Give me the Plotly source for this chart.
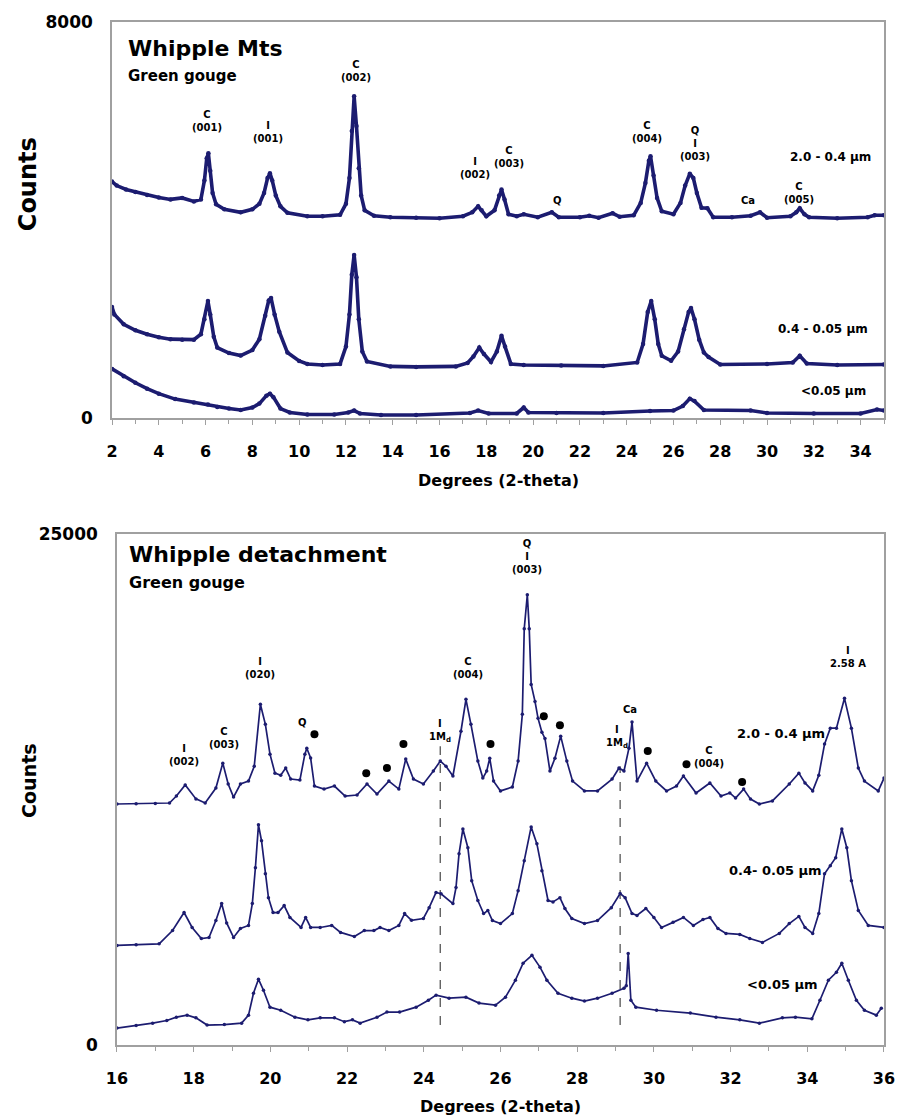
import plotly.graph_objects as go

# ---------------- data: Whipple Mts (top panel) ----------------
top_a_x = [2.0, 2.2, 2.6, 3.0, 3.5, 4.0, 4.5, 5.0, 5.5, 5.8, 5.95, 6.05, 6.12, 6.2, 6.3, 6.45, 6.8, 7.5,
           8.0, 8.3, 8.5, 8.65, 8.75, 8.85, 9.0, 9.2, 9.5, 10.35, 11.0, 11.75, 12.0, 12.15, 12.25, 12.35,
           12.45, 12.55, 12.65, 12.8, 13.2, 13.9, 15.0, 16.0, 17.0, 17.4, 17.65, 17.8, 18.0, 18.35, 18.55,
           18.65, 18.78, 18.95, 19.3, 19.6, 20.2, 20.8, 21.1, 22.0, 22.4, 22.8, 23.4, 23.7, 24.3, 24.6,
           24.8, 24.95, 25.02, 25.15, 25.3, 25.5, 26.0, 26.3, 26.5, 26.7, 26.85, 27.0, 27.2, 27.45, 27.7,
           28.5, 29.3, 29.7, 30.0, 31.0, 31.25, 31.4, 31.6, 31.8, 33.0, 34.3, 34.6, 35.0]
top_a_y = [4780, 4700, 4620, 4570, 4510, 4460, 4420, 4450, 4380, 4420, 4800, 5250, 5350, 5000, 4550, 4320,
           4220, 4160, 4220, 4330, 4550, 4850, 4950, 4800, 4500, 4280, 4150, 4080, 4080, 4110, 4330, 4850,
           5800, 6500, 5900, 5050, 4500, 4200, 4090, 4060, 4050, 4040, 4080, 4160, 4280, 4200, 4080, 4200,
           4500, 4620, 4420, 4120, 4080, 4120, 4060, 4160, 4060, 4060, 4090, 4050, 4140, 4070, 4100, 4350,
           4750, 5200, 5290, 4900, 4450, 4180, 4120, 4350, 4700, 4940, 4850, 4550, 4250, 4240, 4060, 4060,
           4090, 4160, 4050, 4080, 4160, 4240, 4120, 4060, 4040, 4060, 4100, 4100]

top_b_x = [2.0, 2.1, 2.5, 3.0, 3.5, 4.0, 4.5, 5.0, 5.5, 5.8, 5.95, 6.1, 6.2, 6.35, 6.5, 7.0, 7.5, 8.0, 8.3,
           8.55, 8.7, 8.8, 8.95, 9.15, 9.5, 10.0, 10.35, 11.0, 11.75, 12.0, 12.15, 12.25, 12.35, 12.45,
           12.55, 12.7, 12.9, 13.9, 15.0, 16.7, 17.2, 17.45, 17.7, 17.9, 18.2, 18.45, 18.65, 18.8, 19.05,
           19.6, 21.2, 23.0, 24.45, 24.7, 24.9, 25.05, 25.2, 25.35, 25.5, 25.9, 26.2, 26.45, 26.65, 26.75,
           26.9, 27.1, 27.3, 27.5, 28.0, 30.0, 31.1, 31.4, 31.7, 33.0, 35.0]
top_b_y = [2250, 2100, 1900, 1780, 1700, 1640, 1600, 1590, 1590, 1700, 2000, 2370, 2100, 1650, 1430, 1320,
           1270, 1380, 1600, 2070, 2380, 2430, 2100, 1750, 1330, 1160, 1100, 1080, 1100, 1450, 2100, 2900,
           3300, 2850, 2000, 1350, 1150, 1050, 1040, 1050, 1120, 1250, 1430, 1300, 1140, 1350, 1670, 1450,
           1100, 1080, 1070, 1060, 1130, 1500, 2150, 2370, 2000, 1500, 1265, 1165, 1350, 1800, 2150, 2230,
           2000, 1590, 1330, 1240, 1090, 1100, 1130, 1265, 1110, 1080, 1090]

top_c_x = [2.0, 2.5, 3.0, 3.5, 4.0, 4.7, 5.5, 6.1, 6.5, 7.0, 7.5, 8.0, 8.3, 8.6, 8.75, 8.9, 9.2, 9.6, 10.35,
           11.5, 12.1, 12.35, 12.6, 13.5, 15.0, 17.3, 17.65, 18.1, 19.3, 19.6, 19.8, 21.0, 23.0, 25.0, 26.0,
           26.4, 26.7, 26.9, 27.3, 29.3, 30.0, 32.0, 34.0, 34.7, 35.0]
top_c_y = [1000, 850, 720, 600, 500, 390, 320, 280, 230, 200, 170, 220, 300, 460, 500, 430, 200, 120, 80,
           80, 120, 160, 100, 70, 70, 110, 160, 100, 100, 220, 120, 110, 110, 150, 160, 250, 400, 350, 170,
           160, 110, 100, 100, 180, 160]

# ---------------- data: Whipple detachment (bottom panel) ----------------
bot_a_x = [16.0, 16.5, 17.0, 17.37, 17.55, 17.78, 18.06, 18.3, 18.58, 18.76, 18.9, 19.04, 19.22, 19.43,
           19.58, 19.74, 19.87, 19.99, 20.12, 20.27, 20.4, 20.53, 20.77, 20.9, 20.95, 21.05, 21.15, 21.4,
           21.67, 21.95, 22.26, 22.52, 22.78, 23.09, 23.35, 23.53, 23.73, 23.99, 24.25, 24.43, 24.58,
           24.76, 24.97, 25.1, 25.23, 25.41, 25.54, 25.64, 25.72, 25.82, 26.0, 26.31, 26.46, 26.57, 26.62,
           26.7, 26.75, 26.8, 26.9, 26.98, 27.08, 27.16, 27.29, 27.42, 27.57, 27.73, 27.88, 28.19, 28.53,
           28.91, 29.09, 29.22, 29.35, 29.43, 29.56, 29.81, 30.05, 30.33, 30.59, 30.77, 31.1, 31.46, 31.75,
           31.98, 32.13, 32.34, 32.52, 32.75, 33.09, 33.53, 33.78, 33.94, 34.14, 34.3, 34.45, 34.6, 34.76,
           34.97, 35.15, 35.33, 35.49, 35.85, 36.0]
bot_a_y = [11790, 11800, 11810, 11840, 12180, 12720, 12040, 11840, 12570, 13790, 12770, 12130, 12770,
           12910, 13640, 16670, 15690, 14230, 13300, 13200, 13550, 13010, 12960, 14230, 14520, 14040,
           12670, 12520, 12670, 12180, 12230, 12770, 12280, 12910, 12520, 13990, 13010, 12770, 13400,
           13890, 13640, 13160, 15350, 16910, 15690, 13890, 13060, 13400, 14030, 12910, 12430, 12620,
           13890, 16180, 20370, 22030, 20370, 17640, 16810, 15980, 15300, 15000, 13400, 14030, 15110,
           13890, 12910, 12430, 12430, 13010, 13550, 13400, 14520, 15800, 12910, 13790, 12910, 12430,
           12670, 13160, 12330, 12820, 12180, 12330, 12080, 12520, 12030, 11790, 11940, 12770, 13300,
           12820, 12430, 13200, 14720, 15500, 15500, 16960, 15500, 13550, 12910, 12430, 13060]

bot_b_x = [16.0, 16.5, 17.1, 17.45, 17.75, 17.96, 18.2, 18.4, 18.58, 18.73, 18.86, 19.04, 19.22, 19.43,
           19.53, 19.61, 19.69, 19.77, 19.87, 19.95, 20.07, 20.2, 20.36, 20.51, 20.8, 20.92, 21.05, 21.3,
           21.6, 21.83, 22.19, 22.45, 22.7, 22.86, 23.09, 23.35, 23.5, 23.68, 23.99, 24.14, 24.32, 24.45,
           24.76, 24.84, 24.92, 25.02, 25.15, 25.25, 25.41, 25.56, 25.67, 25.79, 26.0, 26.31, 26.46, 26.62,
           26.8, 26.95, 27.08, 27.24, 27.37, 27.55, 27.68, 27.86, 28.19, 28.53, 28.89, 29.12, 29.25, 29.43,
           29.56, 29.79, 30.0, 30.2, 30.5, 30.77, 31.03, 31.28, 31.46, 31.67, 31.88, 32.24, 32.5, 32.83,
           33.27, 33.53, 33.78, 33.94, 34.14, 34.3, 34.45, 34.6, 34.74, 34.9, 35.03, 35.15, 35.33, 35.59,
           36.0]
bot_b_y = [4870, 4900, 4950, 5600, 6480, 5750, 5210, 5260, 6090, 6920, 5970, 5260, 5700, 5850, 6920, 8670,
           10770, 9990, 8380, 7210, 6480, 6480, 6820, 6240, 5750, 6240, 5750, 5750, 5850, 5510, 5310, 5600,
           5600, 5750, 5600, 5850, 6430, 6100, 6190, 6720, 7460, 7400, 6920, 7700, 9360, 10570, 9650, 8040,
           7070, 6430, 6580, 6090, 5940, 6430, 7550, 9020, 10670, 9840, 8530, 7070, 7000, 7210, 6680, 6190,
           5940, 6090, 6720, 7410, 7210, 6430, 6340, 6680, 6240, 5750, 6000, 6240, 5850, 6140, 6240, 5700,
           5460, 5410, 5210, 5020, 5460, 5940, 6290, 5750, 5460, 6430, 8380, 8770, 9160, 10570, 9650, 8040,
           6580, 5850, 5750]

bot_c_x = [16.0, 16.5, 16.93, 17.3, 17.55, 17.83, 18.06, 18.35, 18.8, 19.25, 19.43, 19.56, 19.69, 19.82,
           19.99, 20.27, 20.64, 20.98, 21.3, 21.67, 21.93, 22.14, 22.34, 22.78, 23.04, 23.37, 23.8, 24.12,
           24.32, 24.66, 25.1, 25.44, 25.87, 26.13, 26.39, 26.59, 26.82, 27.03, 27.21, 27.5, 27.86, 28.19,
           28.53, 28.91, 29.22, 29.28, 29.33, 29.4, 29.53, 30.07, 30.95, 31.62, 32.24, 32.75, 33.35, 33.69,
           34.12, 34.33, 34.55, 34.76, 34.9, 35.07, 35.28, 35.49, 35.8, 35.93]
bot_c_y = [830, 950, 1070, 1200, 1360, 1460, 1330, 975, 1000, 1070, 1460, 2530, 3220, 2680, 1850, 1700,
           1360, 1230, 1330, 1330, 1140, 1230, 1070, 1360, 1610, 1610, 1850, 2190, 2440, 2290, 2340, 2050,
           1950, 2340, 3170, 4000, 4390, 3810, 3170, 2530, 2290, 2150, 2290, 2530, 2780, 2900, 4480, 2190,
           1850, 1700, 1560, 1360, 1230, 1070, 1330, 1360, 1280, 2190, 3170, 3560, 4000, 3170, 2190, 1700,
           1460, 1800]

# unidentified-phase dots (bottom panel)
dot_x = [21.15, 22.5, 23.04, 23.47, 25.74, 27.13, 27.55, 29.84, 30.85, 32.3]
dot_y = [15200, 13300, 13550, 14720, 14720, 16080, 15640, 14380, 13740, 12870]

# dashed reference lines (illite 1Md)
dash_x = [24.43, 29.12]
dash_lo = [975, 975]
dash_hi = [14620, 13640]

# axis ticks
top_ytick_vals = [0, 8000]
top_ytick_text = ["0", "8000"]
bot_ytick_vals = [0, 25000]
bot_ytick_text = ["0", "25000"]

# peak labels: (x, y, text)
top_labels = [
    (6.07, 6000, "C<br>(001)"), (8.65, 5790, "I<br>(001)"), (12.42, 7015, "C<br>(002)"),
    (17.5, 5055, "I<br>(002)"), (18.99, 5266, "C<br>(003)"), (21.03, 4402, "Q"),
    (24.88, 5779, "C<br>(004)"), (26.92, 5558, "Q<br>I<br>(003)"), (29.2, 4402, "Ca"),
    (31.36, 4553, "C<br>(005)"),
]
top_series_labels = [(32.72, 5266, "2.0 - 0.4 μm"), (32.38, 1809, "0.4 - 0.05 μm"), (32.85, 563, "<0.05 μm")]

bot_labels = [
    (17.75, 14180, "I<br>(002)"), (18.78, 15030, "C<br>(003)"), (19.74, 18440, "I<br>(020)"),
    (20.85, 15790, "Q"), (24.43, 15350, "I<br>1M<sub>d</sub>"), (25.15, 18420, "C<br>(004)"),
    (26.7, 23880, "Q<br>I<br>(003)"), (29.38, 16420, "Ca"), (29.04, 15080, "I<br>1M<sub>d</sub>"),
    (31.44, 14110, "C<br>(004)"), (35.07, 18980, "I<br>2.58 A"),
]
bot_series_labels = [(33.32, 15250, "2.0 - 0.4 μm"), (33.18, 8530, "0.4- 0.05 μm"), (33.36, 2970, "<0.05 μm")]

NAVY = "#1c1c70"
GRAY = "#a0a0a0"
FONT = "DejaVu Sans"

fig = go.Figure()

for xs, ys in [(top_a_x, top_a_y), (top_b_x, top_b_y), (top_c_x, top_c_y)]:
    fig.add_trace(go.Scatter(x=xs, y=ys, mode="lines+markers", xaxis="x", yaxis="y",
                             line=dict(color=NAVY, width=3.6), marker=dict(size=4.5, color=NAVY),
                             showlegend=False, hoverinfo="skip"))

for lx, lo, hi in zip(dash_x, dash_lo, dash_hi):
    fig.add_trace(go.Scatter(x=[lx, lx], y=[lo, hi], mode="lines", xaxis="x2", yaxis="y2",
                             line=dict(color="#555555", width=1.3, dash="dash"),
                             showlegend=False, hoverinfo="skip"))

for xs, ys in [(bot_a_x, bot_a_y), (bot_b_x, bot_b_y), (bot_c_x, bot_c_y)]:
    fig.add_trace(go.Scatter(x=xs, y=ys, mode="lines+markers", xaxis="x2", yaxis="y2",
                             line=dict(color=NAVY, width=1.7), marker=dict(size=3.5, color=NAVY),
                             showlegend=False, hoverinfo="skip"))

fig.add_trace(go.Scatter(x=dot_x, y=dot_y, mode="markers", xaxis="x2", yaxis="y2",
                         marker=dict(size=8, color="black"), showlegend=False, hoverinfo="skip"))

annotations = []
def label(x, y, t, xr, yr, size):
    return dict(x=x, y=y, xref=xr, yref=yr, text=t, showarrow=False, xanchor="center", yanchor="middle",
                font=dict(family=FONT, size=size, color="black", weight="bold"))

for x, y, t in top_labels:
    annotations.append(label(x, y, t, "x", "y", 10))
for x, y, t in top_series_labels:
    annotations.append(label(x, y, t, "x", "y", 12))
for x, y, t in bot_labels:
    annotations.append(label(x, y, t, "x2", "y2", 10))
for x, y, t in bot_series_labels:
    annotations.append(label(x, y, t, "x2", "y2", 13))

# panel titles
def title(x, y, t, xr, yr, size):
    return dict(x=x, y=y, xref=xr, yref=yr, text=t, showarrow=False, xanchor="left", yanchor="middle",
                font=dict(family=FONT, size=size, color="black", weight="bold"))

annotations += [
    title(2.59, 7457, "Whipple Mts", "x", "y", 22),
    title(2.59, 6914, "Green gouge", "x", "y", 15),
    title(16.26, 23975, "Whipple detachment", "x2", "y2", 22),
    title(16.26, 22610, "Green gouge", "x2", "y2", 16),
]

# axis titles (pixel-placed via paper coords)
W, H, L, R, T, B = 907, 1118, 112, 15, 18, 73
pw, ph = W - L - R, H - T - B
def px(xp):
    return (xp - L) / pw
def py(yp):
    return 1 - (yp - T) / ph

def axtitle(xp, yp, t, size, angle=0):
    return dict(x=px(xp), y=py(yp), xref="paper", yref="paper", text=t, textangle=angle, showarrow=False,
                xanchor="center", yanchor="middle",
                font=dict(family=FONT, size=size, color="black", weight="bold"))

annotations += [
    axtitle(28, 181, "Counts", 24, -90),
    axtitle(28, 780, "Counts", 19, -90),
    axtitle(502, 478, "Degrees (2-theta)", 16),
    axtitle(505, 1107, "Degrees (2-theta)", 16),
]

tickfont = dict(family=FONT, size=16, color="black", weight="bold")
xcommon = dict(showline=True, linecolor=GRAY, linewidth=1.5, mirror=True, showgrid=False, zeroline=False,
               ticks="outside", ticklen=5, tickcolor=GRAY, tickfont=tickfont, dtick=2, tick0=0,
               ticklabelstandoff=13,
               minor=dict(dtick=1, tick0=0, ticks="outside", ticklen=4, tickcolor=GRAY))
ycommon = dict(showline=True, linecolor=GRAY, linewidth=1.5, mirror=True, showgrid=False, zeroline=False,
               ticks="", tickfont=dict(family=FONT, size=17, color="black", weight="bold"),
               ticklabelstandoff=14)

fig.update_layout(
    width=W, height=H, margin=dict(l=L, r=R, t=T, b=B),
    paper_bgcolor="white", plot_bgcolor="white", showlegend=False,
    xaxis=dict(domain=[0, 1], anchor="y", range=[2, 35], **xcommon),
    yaxis=dict(domain=[py(416), 1], anchor="x", range=[0, 8000], tickvals=top_ytick_vals,
               ticktext=top_ytick_text, **ycommon),
    xaxis2=dict(domain=[px(117), 1], anchor="y2", range=[16, 36], **xcommon),
    yaxis2=dict(domain=[0, py(532)], anchor="x2", range=[0, 25000], tickvals=bot_ytick_vals,
                ticktext=bot_ytick_text, **ycommon),
    annotations=annotations,
)

fig.write_html("out.html")
